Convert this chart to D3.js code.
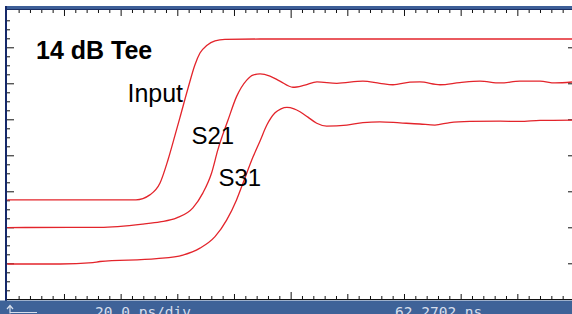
<!DOCTYPE html>
<html>
<head>
<meta charset="utf-8">
<script src="https://cdn.jsdelivr.net/npm/d3@7"></script>
<style>
  html, body { margin: 0; padding: 0; background: #fff; }
  svg { display: block; }
</style>
</head>
<body>
<div id="scope"></div>
<script>
// time is in ps relative to the screen centre, level in vertical divisions from centre
var inputTime  = [-100, -54.6, -49.7, -46.1, -43.3, -40.8, -39.1, -36.2, -33.8, -32.0, -29.5, -26.7, -23.2, -10.8, 100];
var inputLevel = [-1.24, -1.24, -1.10, -0.77, -0.13, 0.56, 1.04, 1.87, 2.51, 2.84, 3.06, 3.18, 3.22, 3.23, 3.23];

var s21Time  = [-100, -77.9, -67.3, -52.1, -46.1, -40.2, -34.5, -31.0, -27.9, -25.7, -22.1, -19.1, -15.5, -13.3, -10.8, -7.3, -3.8, 0.8, 5.0, 9.3, 16.3, 25.5, 31.5, 36.1, 42.1, 45.6, 52.7, 59.7, 66.8, 73.9, 80.9, 88.0, 93.3, 100];
var s21Level = [-2.01, -2.00, -2.00, -1.91, -1.85, -1.74, -1.46, -1.05, -0.49, 0.15, 0.98, 1.63, 2.09, 2.23, 2.26, 2.20, 2.06, 1.89, 1.95, 2.04, 2.00, 2.06, 2.00, 1.96, 2.03, 2.04, 1.96, 2.02, 2.06, 2.01, 2.06, 2.06, 2.01, 2.04];

var s31Time  = [-100, -81.4, -69.8, -67.3, -47.3, -38.0, -32.0, -26.7, -22.6, -19.1, -16.8, -13.3, -10.8, -8.4, -5.5, -3.4, -1.3, 1.2, 3.3, 6.1, 9.2, 12.7, 19.8, 25.5, 31.5, 38.6, 45.6, 50.9, 56.2, 63.3, 73.9, 80.9, 88.0, 100];
var s31Level = [-3.02, -3.02, -2.98, -2.95, -2.87, -2.77, -2.58, -2.26, -1.80, -1.24, -0.77, -0.05, 0.40, 0.84, 1.18, 1.29, 1.33, 1.29, 1.21, 1.06, 0.89, 0.81, 0.84, 0.91, 0.93, 0.90, 0.87, 0.84, 0.91, 0.94, 0.95, 0.94, 0.97, 0.98];

var traceLabels = ["Input", "S21", "S31"];
var labelTime   = [-57.6, -35, -25.5];
var labelLevel  = [1.49, 0.32, -0.85];

var titleText = "14 dB Tee";
var timebaseText = "20.0 ps/div";
var positionText = "62.2702 ns";

(function () {
  // canvas
  var W = 572, H = 314;
  var plotLeft = 7.3, plotRight = 574, plotTop = 11.3, plotBottom = 299.3;

  var x = d3.scaleLinear().domain([-100, 100]).range([plotLeft, plotRight]);
  var y = d3.scaleLinear().domain([-4, 4]).range([plotBottom, plotTop]);

  var svg = d3.select("#scope").append("svg")
    .attr("width", W).attr("height", H);

  svg.append("rect").attr("x", 0).attr("y", 0).attr("width", W).attr("height", H).attr("fill", "#fff");

  // top frame band
  svg.append("rect").attr("x", 5).attr("y", 6).attr("width", W).attr("height", 4).attr("fill", "#3d5f98");
  svg.append("line").attr("x1", 5).attr("x2", W).attr("y1", 9.5).attr("y2", 9.5).attr("stroke", "#1b2f63").attr("stroke-width", 1);

  // left frame
  svg.append("rect").attr("x", 5).attr("y", 6).attr("width", 2).attr("height", 295).attr("fill", "#16296a");

  // bottom status bar
  svg.append("rect").attr("x", 0).attr("y", 300.5).attr("width", W).attr("height", 14).attr("fill", "#3e6298");

  function steps(step, lo, hi) {
    var out = [];
    for (var v = lo; v <= hi + 1e-9; v += step) out.push(+v.toFixed(4));
    return out;
  }

  var minorT = steps(4, -96, 96).filter(function (d) { return d % 20 !== 0; });
  var majorT = steps(20, -80, 80).filter(function (d) { return d !== 0; });

  function drawTicks(axis, tx, ty) {
    var g = svg.append("g").attr("transform", "translate(" + tx + "," + ty + ")").call(axis);
    g.select(".domain").remove();
    g.selectAll("text").remove();
    g.selectAll("line").attr("stroke", "#111").attr("stroke-width", 1);
    return g;
  }

  // top ticks hang from the band
  drawTicks(d3.axisBottom(x).tickValues(minorT).tickSize(3).tickFormat(""), 0, 10);
  drawTicks(d3.axisBottom(x).tickValues(majorT).tickSize(6).tickFormat(""), 0, 10);
  drawTicks(d3.axisBottom(x).tickValues([0]).tickSize(8).tickFormat(""), 0, 10);

  // bottom ticks stand on the base line
  drawTicks(d3.axisTop(x).tickValues(minorT).tickSize(3).tickFormat(""), 0, 299);
  drawTicks(d3.axisTop(x).tickValues(majorT).tickSize(5).tickFormat(""), 0, 299);
  drawTicks(d3.axisTop(x).tickValues([0]).tickSize(7).tickFormat(""), 0, 299);
  svg.append("line").attr("x1", 7).attr("x2", W).attr("y1", 299.5).attr("y2", 299.5).attr("stroke", "#111");

  // left ticks
  var minorV = steps(0.25, -3.75, 3.75).filter(function (d) { return d % 1 !== 0; });
  var majorV = steps(1, -3, 3);
  drawTicks(d3.axisRight(y).tickValues(minorV).tickSize(3).tickFormat(""), 7, 0);
  drawTicks(d3.axisRight(y).tickValues(majorV).tickSize(7).tickFormat(""), 7, 0);

  // right ticks
  drawTicks(d3.axisLeft(y).tickValues(majorV).tickSize(6).tickFormat(""), plotRight, 0);

  // traces
  var line = d3.line()
    .x(function (d) { return x(d[0]); })
    .y(function (d) { return y(d[1]); })
    .curve(d3.curveMonotoneX);

  var traces = [d3.zip(inputTime, inputLevel), d3.zip(s21Time, s21Level), d3.zip(s31Time, s31Level)];

  svg.append("g").selectAll("path")
    .data(traces)
    .enter().append("path")
      .attr("d", line)
      .attr("fill", "none")
      .attr("stroke", "#e3242b")
      .attr("stroke-width", 1.3);

  // labels
  svg.append("text")
    .attr("x", 36).attr("y", 59)
    .attr("font-family", "Liberation Sans, Arial, sans-serif")
    .attr("font-weight", "bold")
    .attr("font-size", 25)
    .attr("fill", "#000")
    .text(titleText);

  svg.append("g").selectAll("text")
    .data(traceLabels)
    .enter().append("text")
      .attr("x", function (d, i) { return x(labelTime[i]); })
      .attr("y", function (d, i) { return y(labelLevel[i]); })
      .attr("font-family", "Liberation Sans, Arial, sans-serif")
      .attr("font-size", function (d, i) { return i === 0 ? 25 : 24; })
      .attr("fill", "#000")
      .text(function (d) { return d; });

  // status bar texts
  var bar = svg.append("g")
    .attr("font-family", "DejaVu Sans Mono, monospace")
    .attr("font-size", 14.5)
    .attr("fill", "#d6deec");
  bar.append("text").attr("x", 95).attr("y", 317).text(timebaseText);
  bar.append("text").attr("x", 395).attr("y", 317).text(positionText);

  // ground marker arrow
  bar.append("path")
    .attr("d", "M10,313.5 L10,306 M7,309 L10,305.5 L13,309 M10,312.5 L37,312.5")
    .attr("fill", "none")
    .attr("stroke", "#d6deec")
    .attr("stroke-width", 1.2);
})();
</script>
</body>
</html>
